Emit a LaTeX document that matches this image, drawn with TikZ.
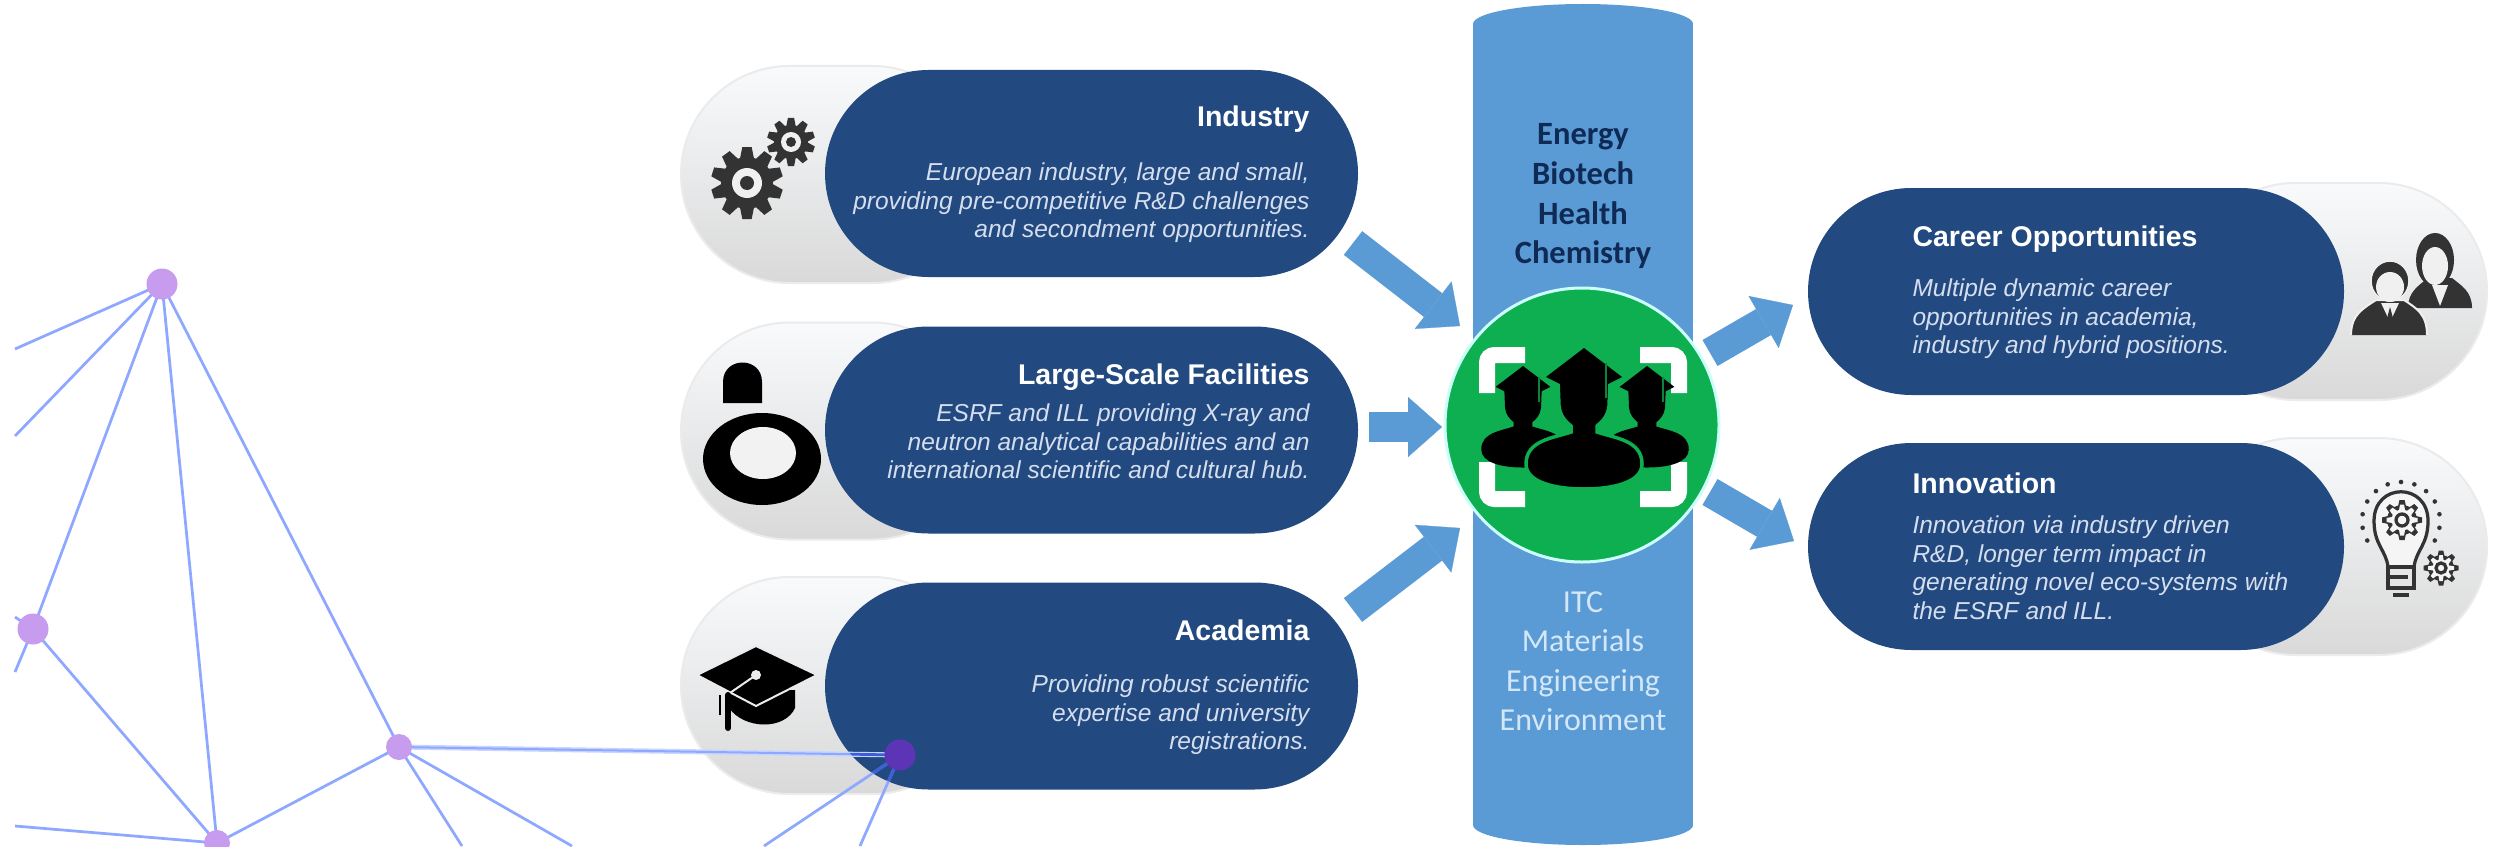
\documentclass[tikz,border=0pt]{standalone}
\usepackage{fontspec}
\setmainfont{Liberation Sans}
\newfontfamily\calib{Carlito}
\usetikzlibrary{shapes.misc,arrows.meta,calc}
\definecolor{navy}{HTML}{224A80}
\definecolor{barblue}{HTML}{5B9BD5}
\definecolor{icongrey}{HTML}{333333}
\definecolor{netline}{HTML}{8FA8FF}
\definecolor{nethalo}{HTML}{C9D5FF}
\definecolor{netdeep}{HTML}{3A5FD8}
\definecolor{netdot}{HTML}{C79BEE}
\definecolor{netdark}{HTML}{5B35B5}
\definecolor{greenc}{HTML}{0DAF50}
\definecolor{bodytxt}{HTML}{D5DEEE}
\definecolor{deepnavy}{HTML}{0F2A55}
\definecolor{lowtxt}{HTML}{D3E7F8}
\definecolor{pilltop}{HTML}{F8FAFC}
\definecolor{pillbot}{HTML}{D9D9D9}
\tikzset{
  darkpill/.style={rounded rectangle,fill=navy,minimum width=533*0.4pt,minimum height=207*0.4pt,inner sep=0pt},
  greypill/.style={rounded rectangle,top color=pilltop,bottom color=pillbot,draw=black!8,line width=0.8pt,minimum height=217*0.4pt,minimum width=300*0.4pt,inner sep=0pt},
  titleR/.style={inner sep=0pt,anchor=north east,align=right,text=white,font=\fontsize{11.4}{11.6}\selectfont\bfseries,execute at begin node=\rule{0pt}{8pt}},
  titleL/.style={inner sep=0pt,anchor=north west,align=left,text=white,font=\fontsize{11.4}{11.6}\selectfont\bfseries,execute at begin node=\rule{0pt}{8pt}},
  bodyR/.style={inner sep=0pt,anchor=north east,align=right,text=bodytxt,font=\fontsize{9.8}{11.5}\selectfont\itshape,execute at begin node=\rule{0pt}{8pt}},
  bodyL/.style={inner sep=0pt,anchor=north west,align=left,text=bodytxt,font=\fontsize{9.8}{11.5}\selectfont\itshape,execute at begin node=\rule{0pt}{8pt}},
  coltop/.style={inner sep=0pt,anchor=north,align=center,text=deepnavy,font=\calib\fontsize{13}{15.9}\selectfont\bfseries,execute at begin node=\rule{0pt}{8pt}},
  collow/.style={inner sep=0pt,anchor=north,align=center,text=lowtxt,font=\calib\fontsize{12.8}{15.8}\selectfont,execute at begin node=\rule{0pt}{8pt}},
  blockarrow/.style={draw=barblue,line width=12pt,-{Triangle[length=13.6pt,width=24pt,line width=0.1pt]}},
  netedge/.style={draw=netline,line width=1.1pt},
  netdeepedge/.style={draw=netdeep,line width=1.1pt},
  bigdot/.style={circle,fill=netdot,inner sep=0pt,minimum size=12.4pt},
  smalldot/.style={circle,fill=netdot,inner sep=0pt,minimum size=10.4pt},
  bracket/.style={draw=white,line width=6.4pt,rounded corners=3pt,line cap=butt},
}
\newcommand{\gearshape}[6]{% cx cy R r teeth colour
  \begin{scope}[shift={(#1,#2)}]
    \foreach \ga in {1,...,#5}{
      \fill[#6,rotate=\ga*360/#5] (-0.20*#3,0.9*#4) -- (-0.13*#3,#3) -- (0.13*#3,#3) -- (0.20*#3,0.9*#4) -- cycle;
    }
    \fill[#6] (0,0) circle [x radius=#4,y radius=#4];
  \end{scope}}
\newcommand{\gradhead}[4]{% cx apexy scale halo-options
  \begin{scope}[shift={(#1,#2)},xscale=#3,yscale=#3]
    \path[fill=black,#4] (-26,32) -- (-25,58) .. controls (-24,68) and (-18,74) .. (-13,78) -- (-13,84)
       .. controls (-30,90) and (-58,92) .. (-58,116) .. controls (-58,134) and (-30,141) .. (0,141)
       .. controls (30,141) and (58,134) .. (58,116) .. controls (58,92) and (30,90) .. (13,84)
       -- (13,78) .. controls (18,74) and (24,68) .. (25,58) -- (26,32) -- cycle;
    \fill[black] (0,0) -- (38,29) -- (0,48) -- (-38,29) -- cycle;
    \draw[black!25!greenc,line width=0.8pt] (22,15) -- (22,50);
  \end{scope}}
\begin{document}
\begin{tikzpicture}[x=0.4pt,y=-0.4pt]
\useasboundingbox (0,0) rectangle (2503,846);
\fill[white] (0,0) rectangle (2503,846);

% grey backing pills
\node[greypill] (gi) at (831,174.5) {};
\node[greypill] (gl) at (831,431) {};
\node[greypill] (ga) at (831,685.5) {};
\node[greypill] (gc) at (2337,291.5) {};
\node[greypill] (gv) at (2337,546.5) {};

% navy pills
\node[darkpill] (pi) at (1091.5,173.5) {};
\node[darkpill] (pl) at (1091.5,430) {};
\node[darkpill] (pa) at (1091.5,686) {};
\node[darkpill,minimum width=536*0.4pt] (pc) at (2076,291.5) {};
\node[darkpill,minimum width=536*0.4pt] (pv) at (2076,546.5) {};

% central column
\fill[barblue] (1583,24) ellipse [x radius=110,y radius=20];
\fill[barblue] (1583,825) ellipse [x radius=110,y radius=20];
\node[rectangle,fill=barblue,minimum width=220*0.4pt,minimum height=801*0.4pt,inner sep=0pt] (bar) at (1583,424.5) {};
\node[coltop] (coltxt) at (1583,123) {Energy\\Biotech\\Health\\Chemistry};
\node[collow] (lowtxt) at (1583,591) {ITC\\Materials\\Engineering\\Environment};

% hub circle
\node[circle,fill=greenc,draw=green!10!cyan!20!white,line width=1.2pt,minimum size=274*0.4pt,inner sep=0pt] (hub) at (1582,425) {};
\coordinate (tailI) at (1353,243);
\coordinate (tipI) at (1460,326);
\coordinate (tailL) at (1369,427);
\coordinate (tipL) at (1442,427);
\coordinate (tailA) at (1353,610);
\coordinate (tipA) at (1460,528);
\coordinate (tailC) at (1710,353);
\coordinate (tipC) at (1793,305);
\coordinate (tailV) at (1710,492);
\coordinate (tipV) at (1794,541);
\draw[blockarrow] (tailI) -- (tipI);
\draw[blockarrow] (tailL) -- (tipL);
\draw[blockarrow] (tailA) -- (tipA);
\draw[blockarrow] (tailC) -- (tipC);
\draw[blockarrow] (tailV) -- (tipV);

% brackets
\draw[bracket] (1525,355) -- (1487,355) -- (1487,393);
\draw[bracket] (1640,355) -- (1679,355) -- (1679,393);
\draw[bracket] (1525,499) -- (1487,499) -- (1487,462);
\draw[bracket] (1640,499) -- (1679,499) -- (1679,462);

% graduates
\gradhead{1523}{366}{0.72}{}
\gradhead{1647}{366}{0.72}{}
\gradhead{1584}{348}{1}{draw=greenc,line width=1.4pt}

% left icons
\gearshape{747}{183}{36}{26}{10}{icongrey}
\fill[black!6] (747,183) circle [x radius=15,y radius=15];
\fill[icongrey] (747,183) circle [x radius=7,y radius=7];
\gearshape{791}{142}{24}{17}{10}{icongrey}
\fill[black!6] (791,142) circle [x radius=10,y radius=10];
\fill[icongrey] (791,142) circle [x radius=5,y radius=5];

\fill[black] (723,403) -- (723,382) .. controls (723,356) and (762,356) .. (762,382) -- (762,403) -- cycle;
\fill[black] (762,459) ellipse [x radius=59,y radius=46];
\fill[black!5] (763,453) ellipse [x radius=33,y radius=26];

\fill[black] (729,690) -- (729,708) .. controls (745,730) and (785,730) .. (795,708) -- (795,690) -- cycle;
\fill[black,draw=black!8,line width=0.8pt] (756,646) -- (817,675) -- (756,706) -- (697,675) -- cycle;
\draw[black!8,line width=0.8pt] (756,675) -- (727,695);
\fill[black!8] (756,675) circle [x radius=5,y radius=5];
\draw[black,line width=2.4pt,line cap=round] (728,695) -- (728,728);
\draw[black,line width=1pt] (720,695) -- (720,715);

% text
\node[titleR] (ti) at (1310,105) {Industry};
\node[bodyR] (bi) at (1310,162) {European industry, large and small,\\providing pre-competitive R\&D challenges\\and secondment opportunities.};
\node[titleR] (tl) at (1310,363) {Large-Scale Facilities};
\node[bodyR] (bl) at (1310,403) {ESRF and ILL providing X-ray and\\neutron analytical capabilities and an\\international scientific and cultural hub.};
\node[titleR] (ta) at (1310,619) {Academia};
\node[bodyR] (ba) at (1310,674) {Providing robust scientific\\expertise and university\\registrations.};
\node[titleL] (tc) at (1912,225) {Career Opportunities};
\node[bodyL] (bc) at (1912,278) {Multiple dynamic career\\opportunities in academia,\\industry and hybrid positions.};
\node[titleL] (tv) at (1912,472) {Innovation};
\node[bodyL] (bv) at (1912,515) {Innovation via industry driven\\R\&D, longer term impact in\\generating novel eco-systems with\\the ESRF and ILL.};

% people icon
\fill[icongrey] (2408,308) .. controls (2408,292) and (2418,286) .. (2428,278) -- (2452,278) .. controls (2462,286) and (2472,292) .. (2472,308) -- cycle;
\fill[icongrey] (2435,260) ellipse [x radius=19,y radius=27];
\fill[black!6] (2435,266) ellipse [x radius=13,y radius=19];
\fill[black!6] (2432,285) -- (2448,285) -- (2440,306) -- cycle;
\fill[icongrey] (2351,335) .. controls (2351,314) and (2364,308) .. (2376,300) -- (2404,300) .. controls (2416,308) and (2427,314) .. (2427,335) -- cycle;
\draw[black!6,line width=0.8pt] (2351,335) .. controls (2351,314) and (2364,308) .. (2376,300) -- (2404,300) .. controls (2416,308) and (2427,314) .. (2427,335);
\fill[black!6] (2381,303) -- (2399,303) -- (2390,322) -- cycle;
\fill[icongrey] (2390,307) -- (2394,322) -- (2390,335) -- (2386,322) -- cycle;
\fill[icongrey,draw=black!6,line width=0.6pt] (2390,281) ellipse [x radius=19,y radius=20];
\fill[black!6] (2390,287) ellipse [x radius=14,y radius=15];

% bulb icon
\foreach \dd in {150,170,...,390}{
  \fill[icongrey] ($(2401,521)+(\dd:39)$) circle [x radius=2.3,y radius=2.3];
}
\draw[icongrey,line width=1.3pt,fill=black!4] (2388,567) .. controls (2386,550) and (2374,545) .. (2374,521) .. controls (2374,482) and (2428,482) .. (2428,521) .. controls (2428,545) and (2416,550) .. (2414,567) -- cycle;
\gearshape{2402}{520}{20}{15}{8}{icongrey}
\gearshape{2402}{520}{15.5}{10.5}{8}{black!4}
\draw[icongrey,line width=1.3pt] (2402,520) circle [x radius=6,y radius=6];
\draw[icongrey,line width=1.3pt] (2388,567) rectangle (2414,588);
\draw[icongrey,line width=1.3pt] (2388,577) -- (2408,577);
\draw[icongrey,line width=1.8pt] (2393,595) -- (2409,595);
\gearshape{2441}{568}{17.5}{13}{8}{icongrey}
\gearshape{2441}{568}{13}{8.5}{8}{black!4}
\draw[icongrey,line width=1.3pt] (2441,568) circle [x radius=5,y radius=5];

% network
\coordinate (e1) at (15,349);
\coordinate (e2) at (15,436);
\coordinate (e3) at (15,672);
\coordinate (e4) at (15,617);
\coordinate (e5) at (15,826);
\coordinate (e6) at (462,846);
\coordinate (e7) at (572,846);
\coordinate (e8) at (764,846);
\coordinate (e9) at (860,846);
\coordinate (NA) at (162,284);
\coordinate (NB) at (33,629);
\coordinate (NC) at (399,747);
\coordinate (ND) at (217,843);
\coordinate (NE) at (900,755);
\draw[netedge] (NA) -- (e1);
\draw[netedge] (NA) -- (e2);
\draw[netedge] (NA) -- (NB);
\draw[netedge] (NA) -- (ND);
\draw[netedge] (NA) -- (NC);
\draw[netedge] (NB) -- (ND);
\draw[netedge] (NB) -- (e3);
\draw[netedge] (NB) -- (e4);
\draw[netedge] (NC) -- (ND);
\draw[draw=nethalo,line width=2pt] (NC) -- (NE);
\draw[netedge,line width=0.8pt] (NC) -- (NE);
\draw[netedge] (NC) -- (e6);
\draw[netedge] (NC) -- (e7);
\draw[netedge] (ND) -- (e5);
\draw[netedge] (NE) -- (e8);
\draw[netedge] (NE) -- (e9);
\begin{scope}
  \clip (928,686) circle [x radius=103,y radius=103];
  \draw[netdeepedge] (NC) -- (NE);
  \draw[netdeepedge] (NE) -- (e8);
  \draw[netdeepedge] (NE) -- (e9);
\end{scope}
\node[smalldot] (dC) at (NC) {};
\node[smalldot] (dD) at (ND) {};
\node[bigdot] (dA) at (NA) {};
\node[bigdot] (dB) at (NB) {};
\node[bigdot,fill=netdark] (dE) at (NE) {};
\end{tikzpicture}
\end{document}
